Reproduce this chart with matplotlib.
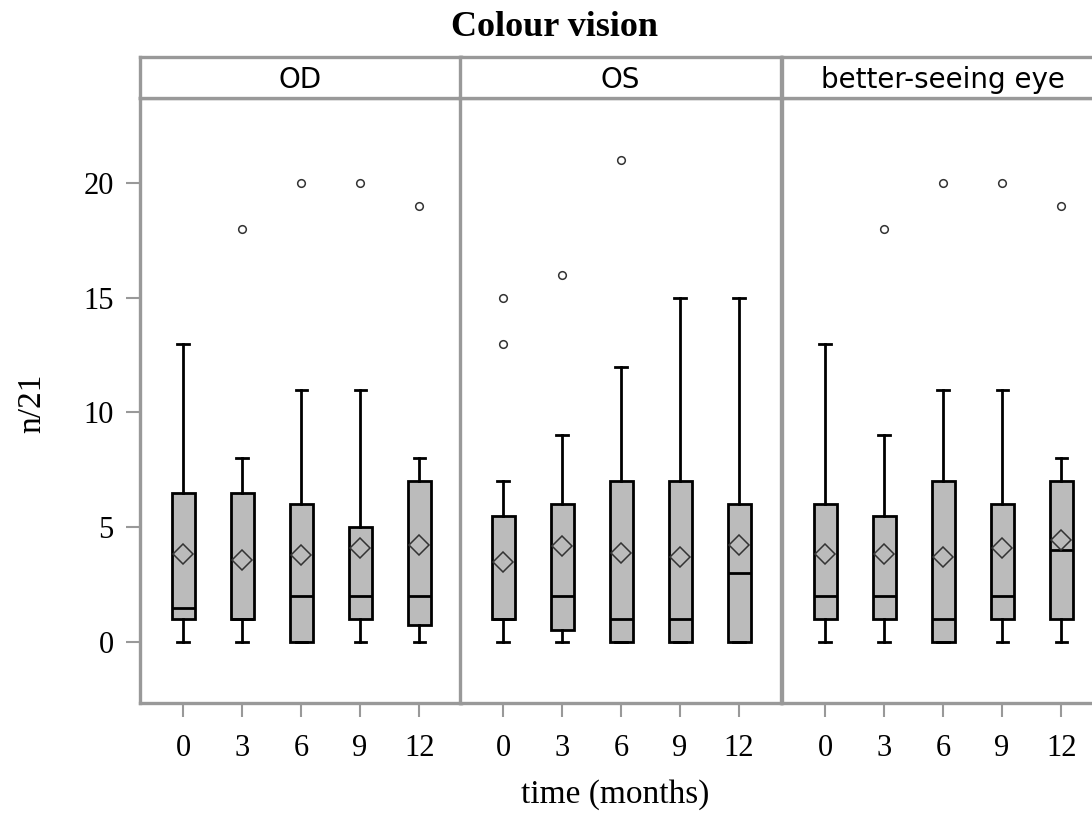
import matplotlib
matplotlib.use('Agg')
import matplotlib.pyplot as plt

# time points (months) and panels
months = ['0', '3', '6', '9', '12']
panels = ['OD', 'OS', 'better-seeing eye']

# per panel, per time point: whisker low, Q1, median, Q3, whisker high
od_low = [0, 0, 0, 0, 0]
od_q1 = [1, 1, 0, 1, 0.75]
od_med = [1.5, 1, 2, 2, 2]
od_q3 = [6.5, 6.5, 6, 5, 7]
od_high = [13, 8, 11, 11, 8]
od_mean = [3.83, 3.57, 3.78, 4.1, 4.23]
od_out = [[], [18], [20], [20], [19]]

os_low = [0, 0, 0, 0, 0]
os_q1 = [1, 0.5, 0, 0, 0]
os_med = [1, 2, 1, 1, 3]
os_q3 = [5.5, 6, 7, 7, 6]
os_high = [7, 9, 12, 15, 15]
os_mean = [3.49, 4.18, 3.89, 3.69, 4.23]
os_out = [[13, 15], [16], [21], [], []]

be_low = [0, 0, 0, 0, 0]
be_q1 = [1, 1, 0, 1, 1]
be_med = [2, 2, 1, 2, 4]
be_q3 = [6, 5.5, 7, 6, 7]
be_high = [13, 9, 11, 11, 8]
be_mean = [3.83, 3.83, 3.72, 4.1, 4.44]
be_out = [[], [18], [20], [20], [19]]

yticks = [0, 5, 10, 15, 20]

GRAY = '#999999'
SERIF = 'Liberation Serif'


def make_stats(low, q1, med, q3, high, mean, out):
    stats = []
    for i in range(len(low)):
        stats.append({'whislo': low[i], 'q1': q1[i], 'med': med[i],
                      'q3': q3[i], 'whishi': high[i], 'mean': mean[i],
                      'fliers': out[i]})
    return stats


def main():
    data = [make_stats(od_low, od_q1, od_med, od_q3, od_high, od_mean, od_out),
            make_stats(os_low, os_q1, os_med, os_q3, os_high, os_mean, os_out),
            make_stats(be_low, be_q1, be_med, be_q3, be_high, be_mean, be_out)]

    fig = plt.figure(figsize=(10.92, 8.23), dpi=100)
    lefts = [0.1282, 0.4212, 0.7161]
    width = 0.294
    bottom = 0.1458
    height = 0.735

    for k, stats in enumerate(data):
        ax = fig.add_axes([lefts[k], bottom, width, height])
        ax.bxp(stats, positions=range(1, len(months) + 1), widths=0.39,
               capwidths=0.19, showmeans=True, showfliers=True,
               patch_artist=True,
               boxprops=dict(facecolor='#bbbbbb', edgecolor='black', linewidth=2),
               medianprops=dict(color='black', linewidth=2),
               whiskerprops=dict(color='black', linewidth=2),
               capprops=dict(color='black', linewidth=2),
               meanprops=dict(marker='D', markerfacecolor='none',
                              markeredgecolor='#333333', markersize=10,
                              markeredgewidth=1.1),
               flierprops=dict(marker='o', markerfacecolor='none',
                               markeredgecolor='#333333', markersize=5.5,
                               markeredgewidth=1.1))
        ax.set_xlim(0.27, 5.71)
        ax.set_ylim(-2.66, 23.7)
        ax.set_xticks(range(1, len(months) + 1))
        ax.set_xticklabels(months, fontfamily=SERIF, fontsize=22)
        ax.tick_params(axis='x', length=10, width=1.5, color=GRAY, pad=12)
        if k == 0:
            ax.set_yticks(yticks)
            ax.set_yticklabels([str(t) for t in yticks], fontfamily=SERIF, fontsize=22)
            ax.tick_params(axis='y', length=10, width=1.5, color=GRAY, pad=9)
        else:
            ax.set_yticks([])
        for sp in ax.spines.values():
            sp.set_color(GRAY)
            sp.set_linewidth(2.4)

        # strip header
        sax = fig.add_axes([lefts[k], 0.881, width, 0.0497])
        sax.set_xticks([])
        sax.set_yticks([])
        for sp in sax.spines.values():
            sp.set_color(GRAY)
            sp.set_linewidth(2.4)
        sax.text(0.5, 0.45, panels[k], ha='center', va='center',
                 fontsize=20, fontfamily='DejaVu Sans',
                 transform=sax.transAxes)

    fig.text(0.508, 0.966, 'Colour vision', ha='center', va='center',
             fontsize=26, fontweight='bold', fontfamily=SERIF)
    fig.text(0.563, 0.034, 'time (months)', ha='center', va='center',
             fontsize=24, fontfamily=SERIF)
    fig.text(0.029, 0.51, 'n/21', ha='center', va='center', rotation=90,
             fontsize=24, fontfamily=SERIF)

    fig.savefig('out.png', dpi=100)


if __name__ == '__main__':
    main()
